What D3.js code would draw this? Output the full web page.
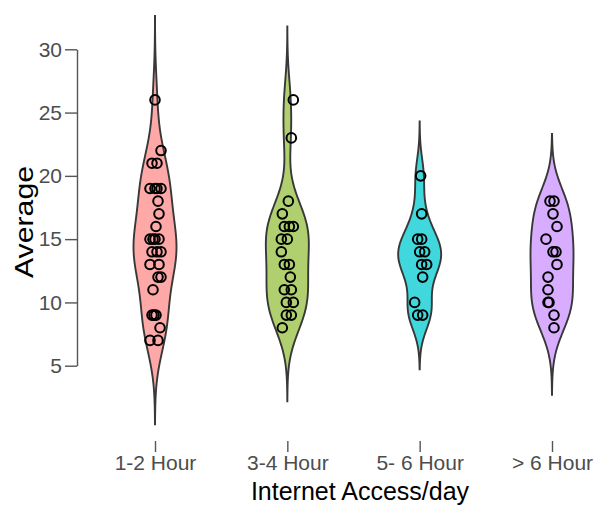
<!DOCTYPE html>
<html>
<head>
<meta charset="utf-8"/>
<script src="https://d3js.org/d3.v7.min.js"></script>
<style>
  body { margin: 0; background: #fff; }
  text { font-family: "Liberation Sans", Arial, sans-serif; }
</style>
</head>
<body>
<div id="chart"></div>
<script>
// categories and values
var groups = ["1-2 Hour", "3-4 Hour", "5- 6 Hour", "> 6 Hour"];
var fills = ["#FFA8A8", "#B0D070", "#40D8DC", "#D8ADFF"];

var avg12 = [26, 22, 21, 21, 19, 19, 19, 19, 18, 17, 16, 15, 15, 15, 15, 14, 14, 14, 13, 13, 12, 12, 11, 9, 9, 9, 8, 7, 7];
var jit12 = [0, 6, -3, 2, -5, 0, 6, 2, 3, 4, 1, -5, 0, 4, -2, -3, 2, 6, -5, 4, 3, 6, -2, -3, -1, 1, 5, -5, 3];

var avg34 = [26, 23, 18, 17, 16, 16, 16, 15, 15, 14, 13, 13, 12, 11, 11, 10, 10, 9, 9, 8];
var jit34 = [6, 4, 1, -5, -3, 2, 6, -6, 0, -6, -3, 2, 3, -3, 4, -1, 6, -1, 4, -5];

var avg56 = [20, 17, 15, 15, 14, 14, 13, 13, 12, 10, 9, 9];
var jit56 = [1, 2, -2, 2, 0, 5, 2, 7, 3, -5, -2, 3];

var avg6p = [18, 18, 17, 16, 15, 14, 14, 13, 12, 11, 10, 10, 9, 8];
var jit6p = [-2, 2, 1, 5, -6, 1, 4, 5, -4, -4, -4, -3, 2, 2];

var yTicks = [5, 10, 15, 20, 25, 30];

var series = [avg12, avg34, avg56, avg6p];
var jitters = [jit12, jit34, jit56, jit6p];

var W = 603, H = 508;
var svg = d3.select("#chart").append("svg")
    .attr("width", W).attr("height", H);

var x = d3.scalePoint().domain(groups).range([155, 552]);
var y = d3.scaleLinear().domain([5, 30]).range([365.7, 49.3]);
var panelBottom = 441;
var halfWidth = 21.5;

// gaussian kde with R's bw.nrd0, extended 3 bandwidths past the data
function nrd0(v) {
    var sd = d3.deviation(v);
    var s = v.slice().sort(d3.ascending);
    var iqr = d3.quantile(s, 0.75) - d3.quantile(s, 0.25);
    var lo = Math.min(sd, iqr / 1.34);
    return 0.9 * lo * Math.pow(v.length, -0.2);
}
function kde(v) {
    var bw = nrd0(v);
    var lo = d3.min(v) - 3 * bw, hi = d3.max(v) + 3 * bw;
    var pts = [];
    for (var i = 0; i <= 256; i++) {
        var t = lo + (hi - lo) * i / 256;
        var d = d3.mean(v, function(p) {
            var u = (t - p) / bw;
            return Math.exp(-0.5 * u * u);
        });
        pts.push([t, d]);
    }
    return pts;
}

// violins
series.forEach(function(v, i) {
    var dens = kde(v);
    var maxD = d3.max(dens, function(d) { return d[1]; });
    var w = d3.scaleLinear().domain([0, maxD]).range([0, halfWidth]);
    var cx = x(groups[i]);
    var area = d3.area()
        .y(function(d) { return y(d[0]); })
        .x0(function(d) { return cx - w(d[1]); })
        .x1(function(d) { return cx + w(d[1]); })
        .curve(d3.curveBasis);
    svg.append("path")
        .datum(dens)
        .attr("d", area)
        .attr("fill", fills[i])
        .attr("stroke", "#383838")
        .attr("stroke-width", 1.9);
});

// jittered points
series.forEach(function(v, i) {
    var cx = x(groups[i]);
    svg.append("g").selectAll("circle")
        .data(v)
        .enter().append("circle")
        .attr("cx", function(d, j) { return cx + jitters[i][j]; })
        .attr("cy", function(d) { return y(d); })
        .attr("r", 4.8)
        .attr("fill", "none")
        .attr("stroke", "#000")
        .attr("stroke-width", 2);
});

// y axis (capped at the outer breaks)
var yAxis = svg.append("g")
    .attr("transform", "translate(77,0)")
    .call(d3.axisLeft(y).tickValues(yTicks).tickSize(12).tickSizeOuter(0).tickPadding(3));
yAxis.select(".domain").attr("stroke", "#555").attr("stroke-width", 1.4);
yAxis.selectAll(".tick line").attr("stroke", "#555").attr("stroke-width", 1.4);
yAxis.selectAll(".tick text")
    .attr("fill", "#4d4d4d")
    .style("font-size", "21px");

// x axis: ticks only
var xAxis = svg.append("g")
    .attr("transform", "translate(0," + panelBottom + ")")
    .call(d3.axisBottom(x).tickSize(11).tickPadding(3));
xAxis.select(".domain").remove();
xAxis.selectAll(".tick line").attr("stroke", "#555").attr("stroke-width", 1.4);
xAxis.selectAll(".tick text")
    .attr("fill", "#4d4d4d")
    .style("font-size", "21px");

// axis titles
svg.append("text")
    .attr("x", 360).attr("y", 500)
    .attr("text-anchor", "middle")
    .style("font-size", "25px")
    .attr("fill", "#000")
    .text("Internet Access/day");

svg.append("text")
    .attr("transform", "translate(33,222) rotate(-90)")
    .attr("text-anchor", "middle")
    .style("font-size", "26px")
    .attr("textLength", 112)
    .attr("lengthAdjust", "spacingAndGlyphs")
    .attr("fill", "#000")
    .text("Average");
</script>
</body>
</html>
